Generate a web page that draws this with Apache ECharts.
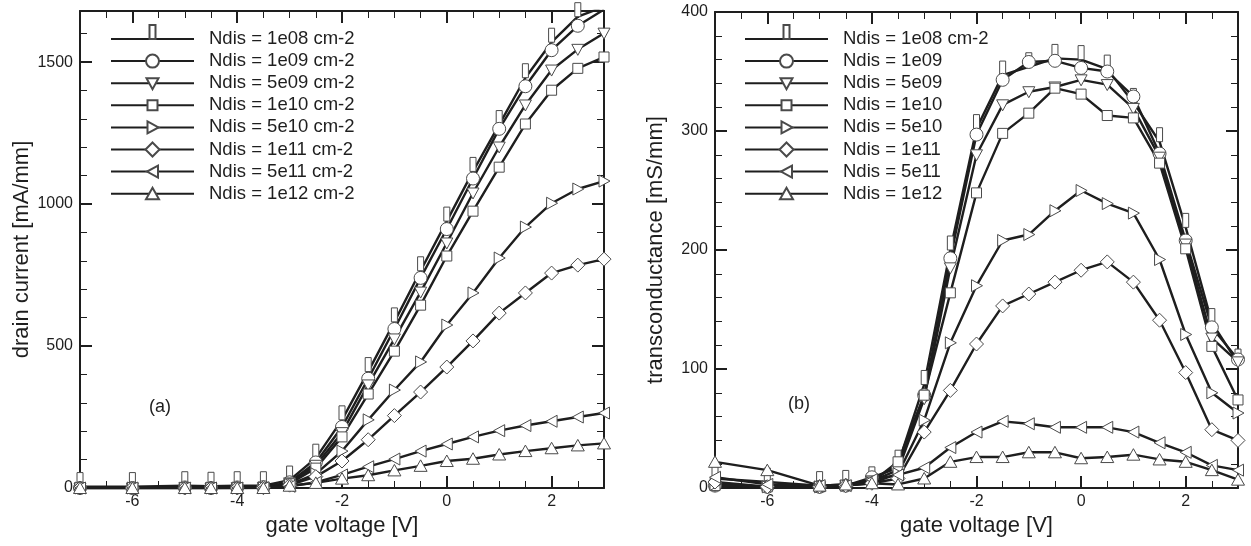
<!DOCTYPE html>
<html>
<head>
<meta charset="utf-8">
<script src="https://cdn.jsdelivr.net/npm/echarts@6/dist/echarts.min.js"></script>
<style>
html,body{margin:0;padding:0;background:#fff;}
#c{width:1251px;height:546px;}
</style>
</head>
<body>
<div id="c"></div>
<script>
// ---- data ----
const gateVoltage = [-7,-6,-5,-4.5,-4,-3.5,-3,-2.5,-2,-1.5,-1,-0.5,0,0.5,1,1.5,2,2.5,3];
const majorXTicks = [-6,-4,-2,0,2];

const namesA = ['Ndis = 1e08 cm-2','Ndis = 1e09 cm-2','Ndis = 5e09 cm-2','Ndis = 1e10 cm-2','Ndis = 5e10 cm-2','Ndis = 1e11 cm-2','Ndis = 5e11 cm-2','Ndis = 1e12 cm-2'];
const namesB = ['Ndis = 1e08 cm-2','Ndis = 1e09','Ndis = 5e09','Ndis = 1e10','Ndis = 5e10','Ndis = 1e11','Ndis = 5e11','Ndis = 1e12'];

// drain current [mA/mm]
const id1e08 = [5,5,8,6,8,8,28,105,240,410,585,765,940,1115,1280,1445,1570,1660,1695];
const id1e09 = [0,0,2,0,2,3,20,90,215,385,560,740,912,1090,1265,1415,1542,1628,1685];
const id5e09 = [0,0,1,0,1,2,18,80,195,363,525,690,863,1039,1201,1349,1472,1545,1602];
const id1e10 = [0,0,1,0,1,2,15,70,180,331,482,644,817,975,1130,1282,1401,1478,1518];
const id5e10 = [0,0,0,0,0,1,12,50,130,240,345,444,574,687,810,919,1003,1053,1081];
const id1e11 = [0,0,0,0,0,1,10,40,95,170,255,338,426,518,616,687,757,785,806];
const id5e11 = [0,0,0,0,0,1,6,20,46,75,102,130,155,180,202,220,235,250,264];
const id1e12 = [0,0,0,0,0,0,8,18,33,45,62,78,95,103,118,130,140,150,157];

// transconductance [mS/mm]
const gm1e08 = [8,5,2,3,6,20,87,200,302,347,354,361,360,352,324,291,219,139,105];
const gm1e09 = [2,1,1,2,9,17,78,193,297,343,358,359,353,350,329,281,208,135,108];
const gm5e09 = [2,1,1,2,6,15,75,185,280,322,333,337,343,339,319,278,205,126,106];
const gm1e10 = [2,1,1,2,5,22,78,164,248,298,315,336,331,313,311,273,201,119,74];
const gm5e10 = [3,1,1,2,4,12,57,122,170,208,213,233,250,239,231,192,129,80,63];
const gm1e11 = [5,1,1,2,4,8,47,82,121,153,163,173,183,190,173,141,97,49,40];
const gm5e11 = [9,3,2,2,7,11,17,34,47,56,54,51,51,51,47,38,30,19,15];
const gm1e12 = [22,15,2,3,4,3,8,22,26,26,30,30,25,26,28,24,22,15,7];

const seriesA = [id1e08,id1e09,id5e09,id1e10,id5e10,id1e11,id5e11,id1e12];
const seriesB = [gm1e08,gm1e09,gm5e09,gm1e10,gm5e10,gm1e11,gm5e11,gm1e12];

// ---- marker shapes (30x30 frame so chart and legend render the same size) ----
const FR = 'M0,0 M30,30 ';
const markers = [
  'path://' + FR + 'M12,1 L18,1 L18,15 L12,15 Z',
  'path://' + FR + 'M8.5,15 A6.5,6.5 0 1 0 21.5,15 A6.5,6.5 0 1 0 8.5,15 Z',
  'path://' + FR + 'M9,10 L21,10 L15,21 Z',
  'path://' + FR + 'M10,10 L20,10 L20,20 L10,20 Z',
  'path://' + FR + 'M10,9 L21,15 L10,21 Z',
  'path://' + FR + 'M15,8 L22,15 L15,22 L8,15 Z',
  'path://' + FR + 'M20.5,9 L9.5,15 L20.5,21 Z',
  'path://' + FR + 'M15,9 L21.5,20.5 L8.5,20.5 Z'
];

const FONT = 'Liberation Sans, Arial, Helvetica, sans-serif';
const INK = '#1e1e1e';

function xAxes(g) {
  const base = {gridIndex:g, type:'value', min:-7, max:3, interval:0.5, splitLine:{show:false}};
  return [
    Object.assign({}, base, {
      position:'bottom',
      axisLine:{show:true, onZero:false, lineStyle:{color:INK, width:2}},
      axisTick:{show:true, inside:true, length:12, customValues:majorXTicks, lineStyle:{color:INK, width:2}},
      axisLabel:{show:true, customValues:majorXTicks, margin:6, color:INK, fontSize:16, fontFamily:FONT},
      name:'gate voltage [V]', nameLocation:'middle', nameGap:25,
      nameTextStyle:{color:INK, fontSize:22, fontFamily:FONT}
    }),
    Object.assign({}, base, {
      position:'bottom',
      axisLine:{show:false, onZero:false},
      axisTick:{show:true, inside:true, length:7, lineStyle:{color:INK, width:1}},
      axisLabel:{show:false}
    }),
    Object.assign({}, base, {
      position:'top',
      axisLine:{show:true, onZero:false, lineStyle:{color:INK, width:2}},
      axisTick:{show:true, inside:true, length:12, customValues:majorXTicks, lineStyle:{color:INK, width:2}},
      axisLabel:{show:false}
    }),
    Object.assign({}, base, {
      position:'top',
      axisLine:{show:false, onZero:false},
      axisTick:{show:true, inside:true, length:7, lineStyle:{color:INK, width:1}},
      axisLabel:{show:false}
    })
  ];
}

function yAxes(g, max, interval, name, gap) {
  const base = {
    gridIndex:g, type:'value', min:0, max:max, interval:interval, splitLine:{show:false},
    axisLine:{show:true, onZero:false, lineStyle:{color:INK, width:2}},
    axisTick:{show:true, inside:true, length:12, lineStyle:{color:INK, width:2}},
    minorTick:{show:true, splitNumber:5, length:7, lineStyle:{color:INK, width:1}}
  };
  return [
    Object.assign({}, base, {
      position:'left',
      axisLabel:{show:true, margin:7, color:INK, fontSize:16, fontFamily:FONT,
        showMaxLabel: max % interval === 0, formatter: v => String(v)},
      name:name, nameLocation:'middle', nameGap:gap,
      nameTextStyle:{color:INK, fontSize:22, fontFamily:FONT}
    }),
    Object.assign({}, base, {position:'right', axisLabel:{show:false}})
  ];
}

const series = [];
function addSeries(names, arrs, g) {
  arrs.forEach((arr, i) => {
    series.push({
      type:'line', name:names[i],
      xAxisIndex: g*4, yAxisIndex: g*2,
      data: gateVoltage.map((x, k) => [x, arr[k]]),
      symbol: markers[i], symbolSize: 30,
      color: INK,
      lineStyle:{color:INK, width:2.4},
      itemStyle:{color:'#ffffff', borderColor:'#4a4a4a', borderWidth:1},
      emphasis:{disabled:true},
      z: 2
    });
  });
}
addSeries(namesA, seriesA, 0);
addSeries(namesB, seriesB, 1);

function legend(names, left) {
  return {
    orient:'vertical', left:left, top:23, padding:0,
    itemWidth:83, itemHeight:37.5, itemGap:-9.9,
    selectedMode:false,
    data: names,
    textStyle:{color:INK, fontSize:18.5, fontFamily:FONT, padding:[0,0,0,10]}
  };
}

const option = {
  animation:false,
  backgroundColor:'#ffffff',
  textStyle:{fontFamily:FONT},
  grid:[
    {left:80, top:11, width:524, height:477, containLabel:false},
    {left:715, top:12, width:523, height:476, containLabel:false}
  ],
  xAxis: xAxes(0).concat(xAxes(1)),
  yAxis: yAxes(0, 1680, 500, 'drain current [mA/mm]', 47).concat(yAxes(1, 400, 100, 'transconductance [mS/mm]', 48)),
  legend:[legend(namesA, 110), legend(namesB, 744)],
  title:[
    {text:'(a)', left:149, top:398, padding:0, textStyle:{color:INK, fontSize:18, fontWeight:'normal', fontFamily:FONT}},
    {text:'(b)', left:788, top:395, padding:0, textStyle:{color:INK, fontSize:18, fontWeight:'normal', fontFamily:FONT}}
  ],
  series: series
};

const chart = echarts.init(document.getElementById('c'), null, {renderer:'canvas'});
chart.setOption(option);
</script>
</body>
</html>
